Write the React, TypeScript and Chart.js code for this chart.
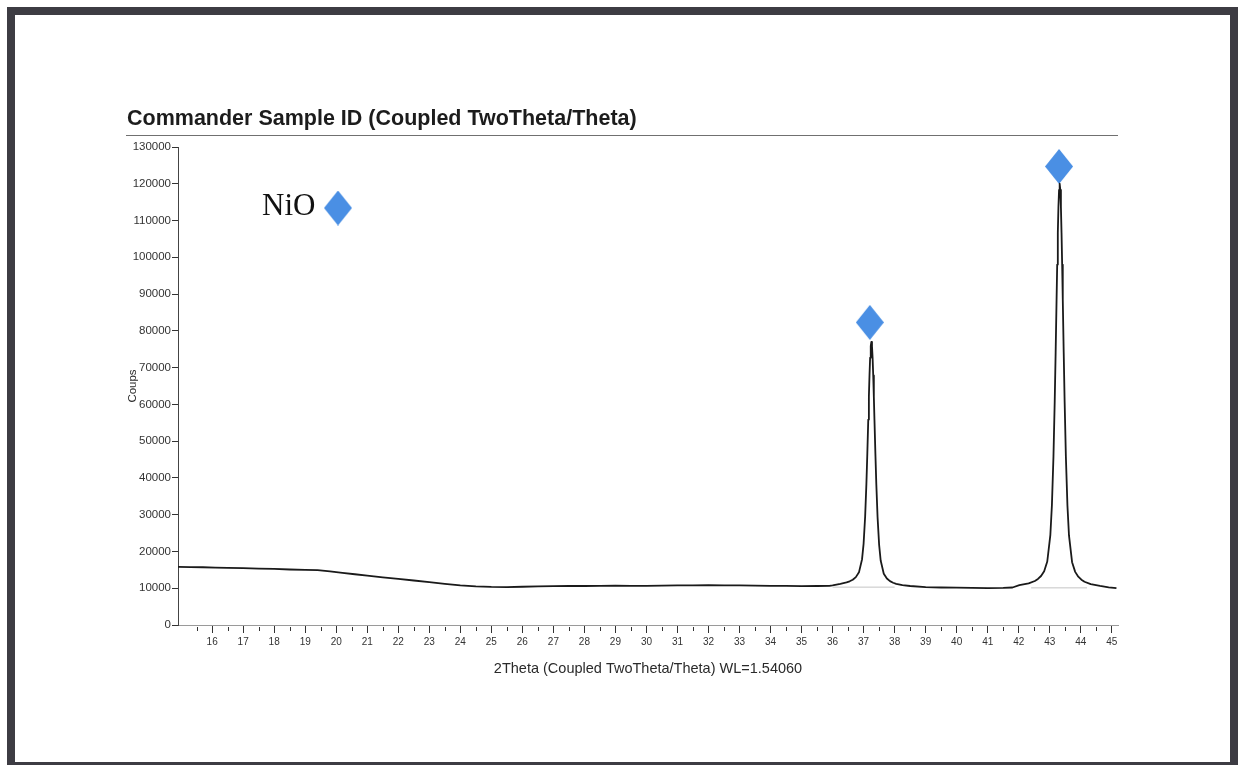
import React, { useEffect, useRef } from "react";
import { Chart, registerables } from "chart.js";

Chart.register(...registerables);

const TITLE = "Commander Sample ID (Coupled TwoTheta/Theta)";
const X_TITLE = "2Theta (Coupled TwoTheta/Theta) WL=1.54060";
const Y_TITLE = "Coups";
const PHASE_LABEL = "NiO";

// Diffractogram: 2θ (degrees) and intensity (counts)
const TWO_THETA = [
  14.9, 15.3, 15.7, 16.1, 16.5, 17.0, 17.5, 18.0, 18.5, 19.0, 19.4, 19.8, 20.2, 20.6, 21.0,
  21.5, 22.0, 22.5, 23.0, 23.5, 24.0, 24.5, 25.0, 25.5, 26.0, 26.5, 27.0, 27.5, 28.0, 28.5,
  29.0, 29.5, 30.0, 30.5, 31.0, 31.5, 32.0, 32.5, 33.0, 33.5, 34.0, 34.5, 35.0, 35.5, 35.9,
  36.0, 36.25, 36.45, 36.55, 36.65, 36.75, 36.85, 36.95, 37.0, 37.05, 37.09, 37.12, 37.15,
  37.17, 37.19, 37.21, 37.23, 37.25, 37.27, 37.29, 37.31, 37.33, 37.35, 37.38, 37.41, 37.45,
  37.5, 37.55, 37.65, 37.75, 37.85, 37.95, 38.05, 38.25, 38.5, 39.0, 39.5, 40.0, 40.5, 41.0,
  41.5, 41.8, 42.02, 42.32, 42.52, 42.62, 42.72, 42.82, 42.92, 43.02, 43.07, 43.12, 43.16,
  43.19, 43.22, 43.24, 43.26, 43.28, 43.3, 43.32, 43.34, 43.36, 43.38, 43.4, 43.42, 43.45,
  43.48, 43.52, 43.57, 43.62, 43.72, 43.82, 43.92, 44.02, 44.12, 44.32, 44.62, 44.9, 45.15,
];
const COUNTS = [
  15800, 15750, 15700, 15600, 15550, 15450, 15350, 15250, 15100, 15000, 14900, 14600, 14200, 13800, 13400,
  12950, 12550, 12100, 11650, 11200, 10800, 10500, 10350, 10300, 10400, 10500, 10550, 10600, 10600, 10650,
  10700, 10650, 10650, 10700, 10750, 10750, 10850, 10800, 10750, 10700, 10650, 10650, 10550, 10600, 10650,
  10780, 11200, 11590, 11880, 12310, 13020, 14320, 17900, 22150, 29590, 38420, 46720, 55880,
  62130, 67900, 72680, 75870, 77000, 75860, 72660, 67850, 62040, 55760, 46540, 38190, 29300,
  21820, 17550, 13940, 12630, 11920, 11490, 11200, 10840, 10610, 10300, 10200, 10150, 10100, 10050,
  10100, 10200, 10820, 11310, 11970, 12520, 13330, 14640, 17270, 24530, 32650, 45920, 60760,
  74130, 88540, 98020, 106650, 113740, 118350, 120000, 118350, 113720, 106620, 97980, 88480, 74040,
  60660, 45780, 32490, 24360, 17080, 14450, 13140, 12320, 11770, 11110, 10630, 10250, 10050,
];

// Peak identification markers (NiO)
const PEAK_MARK_TWO_THETA = [37.2, 43.3];
const PEAK_MARK_COUNTS = [82300, 124700];

// Fitted background segments beneath the reflections
const BASE_START = [36.0, 42.4];
const BASE_END = [38.0, 44.2];
const BASE_LEVEL = [10300, 10100];

const X_TICKS = [16, 17, 18, 19, 20, 21, 22, 23, 24, 25, 26, 27, 28, 29, 30, 31, 32, 33, 34, 35, 36, 37, 38, 39, 40, 41, 42, 43, 44, 45];
const X_MINOR_TICKS = [15.5, 16.5, 17.5, 18.5, 19.5, 20.5, 21.5, 22.5, 23.5, 24.5, 25.5, 26.5, 27.5, 28.5, 29.5, 30.5, 31.5, 32.5, 33.5, 34.5, 35.5, 36.5, 37.5, 38.5, 39.5, 40.5, 41.5, 42.5, 43.5, 44.5];
const Y_TICKS = [0, 10000, 20000, 30000, 40000, 50000, 60000, 70000, 80000, 90000, 100000, 110000, 120000, 130000];

const SANS = "'Liberation Sans', Arial, Helvetica, sans-serif";
const SERIF = "'Liberation Serif', 'Times New Roman', serif";
const MARK_BLUE = "#4a8fe4";

function makeDiamond(w: number, h: number, color: string): HTMLCanvasElement {
  const c = document.createElement("canvas");
  c.width = w;
  c.height = h;
  const g = c.getContext("2d")!;
  g.fillStyle = color;
  g.beginPath();
  g.moveTo(w / 2, 0);
  g.lineTo(w, h / 2);
  g.lineTo(w / 2, h);
  g.lineTo(0, h / 2);
  g.closePath();
  g.fill();
  return c;
}

export default function App() {
  const canvasRef = useRef<HTMLCanvasElement | null>(null);

  useEffect(() => {
    const canvas = canvasRef.current;
    if (!canvas) return;
    const diamond = makeDiamond(28, 35, MARK_BLUE);

    const decor = {
      id: "decor",
      afterDraw(chart: any) {
        const ctx = chart.ctx as CanvasRenderingContext2D;
        const xs = chart.scales.x;
        const area = chart.chartArea;
        ctx.save();

        // heading and rule
        ctx.fillStyle = "#1c1c1c";
        ctx.font = `bold 21.5px ${SANS}`;
        ctx.textAlign = "left";
        ctx.textBaseline = "alphabetic";
        ctx.fillText(TITLE, 127, 125);
        ctx.strokeStyle = "#707070";
        ctx.lineWidth = 1;
        ctx.beginPath();
        ctx.moveTo(126, 135.5);
        ctx.lineTo(1118, 135.5);
        ctx.stroke();

        // half-degree minor ticks on the 2θ axis
        ctx.strokeStyle = "#333";
        ctx.beginPath();
        for (const v of X_MINOR_TICKS) {
          const px = Math.round(xs.getPixelForValue(v)) + 0.5;
          ctx.moveTo(px, area.bottom + 2);
          ctx.lineTo(px, area.bottom + 6);
        }
        ctx.stroke();

        // phase legend
        ctx.fillStyle = "#111";
        ctx.font = `31px ${SERIF}`;
        ctx.fillText(PHASE_LABEL, 262, 215);
        ctx.drawImage(diamond, 338 - 14, 208 - 17.5);

        ctx.restore();
      },
    };

    const chart = new Chart(canvas, {
      type: "scatter",
      data: {
        datasets: [
          ...BASE_START.map((s, i) => ({
            data: [
              { x: s, y: BASE_LEVEL[i] },
              { x: BASE_END[i], y: BASE_LEVEL[i] },
            ],
            showLine: true,
            borderColor: "#c4c4c4",
            borderWidth: 1,
            pointRadius: 0,
          })),
          {
            data: TWO_THETA.map((t, i) => ({ x: t, y: COUNTS[i] })),
            showLine: true,
            borderColor: "#1a1a1a",
            borderWidth: 1.8,
            borderJoinStyle: "round",
            tension: 0,
            pointRadius: 0,
          },
          {
            data: PEAK_MARK_TWO_THETA.map((t, i) => ({ x: t, y: PEAK_MARK_COUNTS[i] })),
            showLine: false,
            pointStyle: diamond,
            pointRadius: 15,
            borderWidth: 0,
          },
        ],
      },
      options: {
        responsive: false,
        animation: false,
        devicePixelRatio: 1,
        layout: { padding: { left: 0, top: 147, right: 121, bottom: 80 } },
        plugins: {
          legend: { display: false },
          tooltip: { enabled: false },
        },
        scales: {
          x: {
            type: "linear",
            min: 14.9,
            max: 45.2,
            afterFit: (s: any) => {
              s.height = 60;
            },
            afterBuildTicks: (s: any) => {
              s.ticks = X_TICKS.map((v) => ({ value: v }));
            },
            ticks: {
              autoSkip: false,
              maxRotation: 0,
              padding: 3,
              color: "#333",
              font: { family: SANS, size: 10 },
              callback: (v: any) => String(v),
            },
            grid: {
              drawOnChartArea: false,
              drawTicks: true,
              tickLength: 8,
              tickColor: "#333",
            },
            border: { display: true, color: "#9a9a9a", width: 1, dash: [2, 2] },
            title: {
              display: true,
              text: X_TITLE,
              color: "#2a2a2a",
              font: { family: SANS, size: 14.5 },
              padding: { top: 0, bottom: 7 },
            },
          },
          y: {
            type: "linear",
            min: 0,
            max: 130000,
            afterFit: (s: any) => {
              s.width = 178;
            },
            afterBuildTicks: (s: any) => {
              s.ticks = Y_TICKS.map((v) => ({ value: v }));
            },
            ticks: {
              autoSkip: false,
              padding: 1,
              color: "#333",
              font: { family: SANS, size: 11.5 },
              callback: (v: any) => String(v),
            },
            grid: {
              drawOnChartArea: false,
              drawTicks: true,
              tickLength: 6,
              tickColor: "#333",
            },
            border: { display: true, color: "#444", width: 1, dash: [1, 2] },
            title: {
              display: true,
              text: Y_TITLE,
              color: "#2a2a2a",
              font: { family: SANS, size: 11.5 },
              padding: { top: 126, bottom: 0 },
            },
          },
        },
      },
      plugins: [decor],
    } as any);

    return () => chart.destroy();
  }, []);

  return (
    <div
      style={{
        position: "fixed",
        left: 0,
        top: 0,
        width: 1239,
        height: 765,
        background: "#fff",
        overflow: "hidden",
      }}
    >
      <div
        style={{
          position: "absolute",
          left: 7,
          top: 7,
          width: 1231,
          height: 763,
          boxSizing: "border-box",
          border: "8px solid #3d3c43",
        }}
      />
      <canvas
        ref={canvasRef}
        width={1239}
        height={765}
        style={{ position: "absolute", left: 0, top: 0, width: 1239, height: 765 }}
      />
    </div>
  );
}
